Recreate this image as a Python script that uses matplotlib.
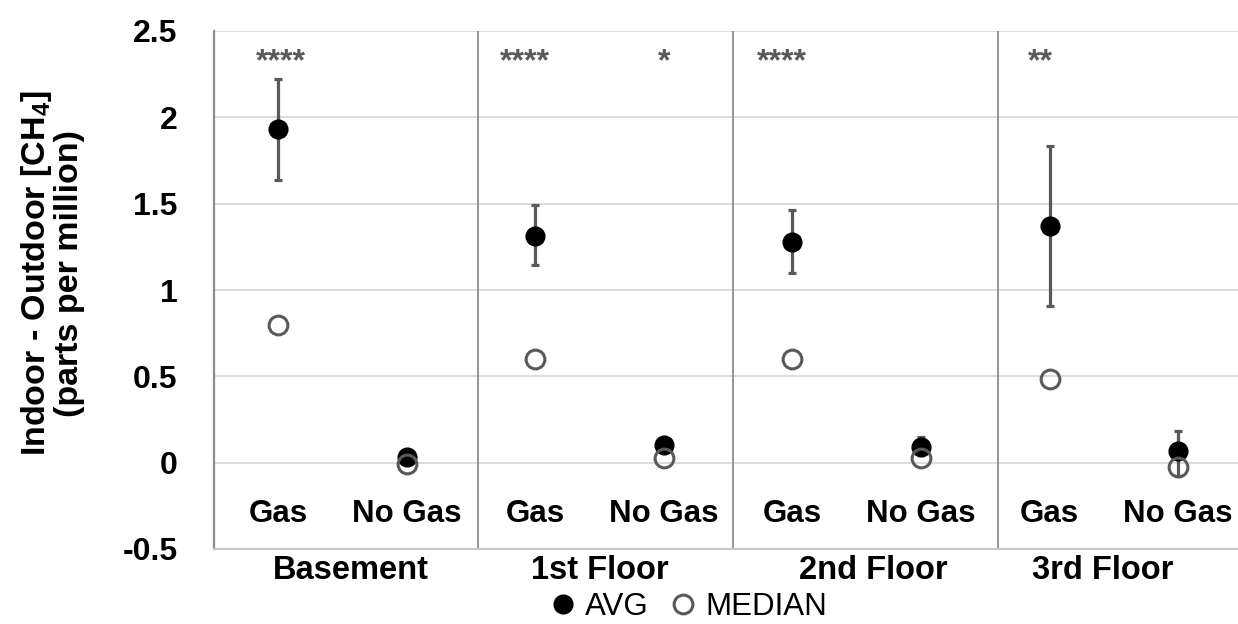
import matplotlib
matplotlib.use("Agg")
import matplotlib.pyplot as plt
from matplotlib.lines import Line2D

FONT = 'Liberation Sans'
plt.rcParams['font.family'] = [FONT, 'DejaVu Sans']
plt.rcParams['mathtext.fontset'] = 'custom'
plt.rcParams['mathtext.bf'] = FONT + ':bold'
plt.rcParams['mathtext.rm'] = FONT + ':bold'
plt.rcParams['mathtext.default'] = 'bf'

# ---- data ----
floors = ["Basement", "1st Floor", "2nd Floor", "3rd Floor"]
groups = ["Gas", "No Gas"]
avg = [1.93, 0.035, 1.315, 0.10, 1.28, 0.09, 1.37, 0.065]
err_low = [1.635, 0.01, 1.145, 0.075, 1.10, 0.06, 0.905, -0.08]
err_high = [2.22, 0.06, 1.495, 0.125, 1.465, 0.15, 1.835, 0.185]
median = [0.80, -0.01, 0.60, 0.025, 0.60, 0.027, 0.485, -0.025]
stars = ["****", "", "****", "*", "****", "", "**", ""]
yticks = [-0.5, 0, 0.5, 1, 1.5, 2, 2.5]
ytick_labels = ["-0.5", "0", "0.5", "1", "1.5", "2", "2.5"]

# ---- layout ----
W, H = 1238, 624
fig = plt.figure(figsize=(W / 100, H / 100), dpi=100)
ax = fig.add_axes([213.7 / W, (H - 549) / H, 1 - 213.7 / W, (549 - 31) / H])

x = list(range(len(avg)))
yerr = [[a - l for a, l in zip(avg, err_low)], [h - a for a, h in zip(avg, err_high)]]

grey = "#595959"
ax.errorbar(x, avg, yerr=yerr, fmt='none', ecolor=grey, elinewidth=2.3,
            capsize=3.2, capthick=2.3, zorder=3)
ax.plot(x, avg, 'o', color='black', markersize=13.5, zorder=4, label='AVG')
ax.plot(x, median, 'o', markerfacecolor='none', markeredgecolor=grey,
        markeredgewidth=2.2, markersize=13.5, zorder=5, label='MEDIAN')

ax.set_xlim(-0.5, 7.465)
ax.set_ylim(-0.5, 2.5)
ax.set_yticks(yticks)
ax.set_yticklabels(ytick_labels, fontsize=23, fontweight='bold')
ax.tick_params(axis='y', length=0, pad=26)
ax.set_xticks([])

for yv in yticks[1:]:
    ax.axhline(yv, color='#d9d9d9', lw=1.3, zorder=1)

for sep in [1.555, 3.54, 5.60]:
    ax.axvline(sep, color='#8c8c8c', lw=1.3, zorder=1)

for s in ['top', 'right']:
    ax.spines[s].set_visible(False)
ax.spines['left'].set_color('#8c8c8c')
ax.spines['left'].set_linewidth(1.6)
ax.spines['bottom'].set_color('#c8c8c8')
ax.spines['bottom'].set_linewidth(1.6)

# group labels inside plot
for i in x:
    ax.text(i, -0.295, groups[i % 2], ha='center', va='center',
            fontsize=22.5, fontweight='bold')

# floor labels below axis
floor_pos = [0.57, 2.50, 4.63, 6.41]
for fp, name in zip(floor_pos, floors):
    ax.text(fp, -0.042, name, transform=ax.get_xaxis_transform(),
            ha='center', va='center', fontsize=23.5, fontweight='bold')

# significance stars
star_off = [0.02, 0, -0.08, 0, -0.08, 0, -0.07, 0]
for i, s in enumerate(stars):
    if s:
        ax.text(i + star_off[i], 2.32, s, ha='center', va='center',
                fontsize=23, fontweight='bold', color=grey)

ax.set_ylabel("Indoor - Outdoor [CH$_4$]\n(parts per million)", fontsize=24.5,
              fontweight='bold', linespacing=1.0, va='center')
ax.yaxis.set_label_coords(-0.158, 0.532)

handles = [Line2D([], [], ls='none', marker='o', color='black', markersize=13.5),
           Line2D([], [], ls='none', marker='o', markerfacecolor='none',
                  markeredgecolor=grey, markeredgewidth=2.2, markersize=13.5)]
fig.legend(handles, ['AVG', 'MEDIAN'], loc='center', bbox_to_anchor=(0.555, 0.027),
           ncol=2, frameon=False, fontsize=22.5, handletextpad=0.2,
           columnspacing=0.6, handlelength=1.0)

fig.savefig("out.png", dpi=100)
